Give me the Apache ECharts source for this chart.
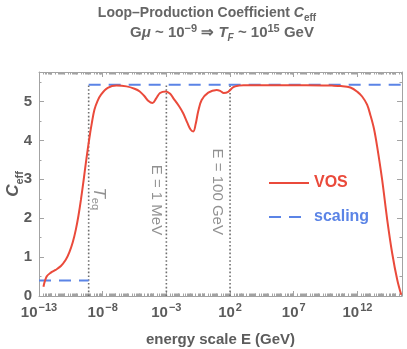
<!DOCTYPE html>
<html><head><meta charset="utf-8">
<script src="https://cdn.jsdelivr.net/npm/echarts@6/dist/echarts.min.js"></script>
<style>html,body{margin:0;padding:0;background:#fff}#c{width:407px;height:349px}</style>
</head><body><div id="c"></div>
<script>
// x values are log10(E / GeV)
const vosLogE = [-12.65,-12.4,-12.07,-11.7,-11.28,-10.9,-10.62,-10.35,-10.1,-9.9,-9.71,-9.5,-9.31,-9.05,-8.85,-8.65,-8.4,-8.13,-7.6,-6.92,-6.13,-5.5,-5.09,-4.7,-4.43,-4.09,-3.8,-3.5,-3.04,-2.7,-2.46,-2.0,-1.68,-1.35,-1.1,-0.89,-0.7,-0.5,-0.23,0.29,0.95,1.25,1.5,1.85,2.26,2.7,3.05,5,8,10,10.7,11.45,12.0,12.37,12.76,13.02,13.3,13.55,13.94,14.34,14.73,15.13,15.44];
const vosC    = [0.24,0.5,0.6,0.67,0.77,0.93,1.12,1.38,1.72,2.07,2.47,2.97,3.45,4.05,4.45,4.79,5.02,5.18,5.35,5.41,5.39,5.33,5.26,5.13,5.02,4.96,5.08,5.22,5.26,5.2,5.09,4.88,4.70,4.45,4.28,4.23,4.42,4.75,5.04,5.23,5.30,5.27,5.22,5.25,5.37,5.41,5.42,5.42,5.42,5.41,5.40,5.36,5.25,5.13,4.92,4.65,4.3,3.84,2.99,1.96,1.10,0.41,0.03];
const scalingLowLogE  = [-13, -9.1];
const scalingLowC     = [0.4, 0.4];
const scalingHighLogE = [-9.1, 15.5];
const scalingHighC    = [5.43, 5.43];
const markerLogE  = [-9.1, -3, 2];      // T_eq, 1 MeV, 100 GeV
const markerTopC  = 5.43;
const markerLabels = ['{t|T}{e|eq}', 'E = 1 MeV', 'E = 100 GeV'];
const markerLabelLogE = [-8.35, -3.8, 1.0];
const markerLabelC    = [2.5, 2.47, 2.68];
const xTickExps = [-13, -8, -3, 2, 7, 12];
const yTicks = [0, 1, 2, 3, 4, 5];
const xMin = -13, xMax = 15.5, yMin = 0, yMax = 5.76;

const RED = '#ea4a3b', BLUE = '#5b84e6', FRAME = '#a3a3a3', TXT = '#5c5c5c';
const FF = "'Liberation Sans', Arial, sans-serif";

const xMinor = [];
for (let n = -13; n <= 15; n++) for (let k = 1; k <= 9; k++) {
  const v = n + Math.log10(k);
  if (v > xMin && v < xMax && !xTickExps.includes(v)) xMinor.push(v);
}
const yMinor = [0.5,1.5,2.5,3.5,4.5,5.5];

function xAx(pos, major, showLabel) {
  return {
    type: 'value', min: xMin, max: xMax, position: pos,
    axisLine: {show: major, onZero: false, lineStyle: {color: FRAME, width: 1}},
    axisTick: {show: true, inside: true, length: major ? 5 : 2.5,
      customValues: major ? xTickExps : xMinor, lineStyle: {color: FRAME}},
    axisLabel: {show: showLabel, customValues: xTickExps, margin: 6,
      formatter: v => '{b|10}{s|' + String(Math.round(v)).replace('-', '\u2212') + '}',
      rich: {b: {fontSize: 15, fontWeight: 'bold', color: TXT, fontFamily: FF, lineHeight: 18, verticalAlign: 'bottom'},
             s: {fontSize: 11, fontWeight: 'bold', color: TXT, fontFamily: FF, lineHeight: 18, verticalAlign: 'top', padding: [0,0,0,1]}}},
    splitLine: {show: false}
  };
}
function yAx(pos, major, showLabel) {
  return {
    type: 'value', min: yMin, max: yMax, position: pos,
    axisLine: {show: major, onZero: false, lineStyle: {color: FRAME, width: 1}},
    axisTick: {show: true, inside: true, length: major ? 5 : 2.5,
      customValues: major ? yTicks : yMinor, lineStyle: {color: FRAME}},
    axisLabel: {show: showLabel, customValues: yTicks, margin: 7,
      fontSize: 15, fontWeight: 'bold', color: TXT, fontFamily: FF},
    splitLine: {show: false}
  };
}

const xAxes = [xAx('bottom', true, true), xAx('bottom', false, false), xAx('top', true, false), xAx('top', false, false)];
xAxes[0].name = 'energy scale E (GeV)';
xAxes[0].nameLocation = 'middle';
xAxes[0].nameGap = 36;
xAxes[0].nameTextStyle = {fontSize: 15, fontWeight: 'bold', color: TXT, fontFamily: FF};
const yAxes = [yAx('left', true, true), yAx('left', false, false), yAx('right', true, false), yAx('right', false, false)];
yAxes[0].name = '{c|C}{e|eff}';
yAxes[0].nameLocation = 'middle';
yAxes[0].nameGap = 14;
yAxes[0].nameMoveOverlap = false;
yAxes[0].nameRotate = 90;
yAxes[0].nameTextStyle = {rich: {
  c: {fontSize: 17, fontWeight: 'bold', fontStyle: 'italic', color: TXT, fontFamily: FF, lineHeight: 20, verticalAlign: 'top'},
  e: {fontSize: 11, fontWeight: 'bold', color: TXT, fontFamily: FF, lineHeight: 14, verticalAlign: 'bottom'}}};

const zip = (a, b) => a.map((v, i) => [v, b[i]]);

const series = [
  {name: 'scaling', type: 'line', data: zip(scalingLowLogE, scalingLowC), symbol: 'none',
   lineStyle: {color: BLUE, width: 2, type: [12, 8]}, itemStyle: {color: BLUE}, z: 3},
  {name: 'scaling', type: 'line', data: zip(scalingHighLogE, scalingHighC), symbol: 'none',
   lineStyle: {color: BLUE, width: 2, type: [12, 8]}, itemStyle: {color: BLUE}, z: 3}
];
markerLogE.forEach((x, i) => series.push({
  name: 'm' + i, type: 'line', data: [[x, 0], [x, markerTopC]], symbol: 'none',
  lineStyle: {color: '#6f6f6f', width: 1.6, type: [1.6, 2.2]}, z: 2
}));
series.push({name: 'VOS', type: 'line', data: zip(vosLogE, vosC), symbol: 'none', smooth: 0.35,
  lineStyle: {color: RED, width: 2}, itemStyle: {color: RED}, z: 4});
series.push({name: 'labels', type: 'scatter', symbolSize: 1, itemStyle: {color: 'rgba(0,0,0,0)'},
  data: markerLabelLogE.map((x, i) => ({value: [x, markerLabelC[i]], label: {formatter: markerLabels[i]}})),
  label: {show: true, position: 'inside', rotate: -90, fontSize: 15, color: '#767676', fontFamily: FF,
    rich: {t: {fontSize: 17, fontStyle: 'italic', color: '#767676', fontFamily: FF, lineHeight: 18, verticalAlign: 'top'},
           e: {fontSize: 11, color: '#767676', fontFamily: FF, lineHeight: 14, verticalAlign: 'bottom'}}},
  z: 5});

const titleRich = {
  a: {fontSize: 14, fontWeight: 'bold', fill: '#666', fontFamily: FF, lineHeight: 20},
  b: {fontSize: 15, fontWeight: 'bold', fill: '#666', fontFamily: FF, lineHeight: 20},
  i: {fontSize: 14, fontWeight: 'bold', fontStyle: 'italic', fill: '#666', fontFamily: FF, lineHeight: 20},
  ib: {fontSize: 15, fontWeight: 'bold', fontStyle: 'italic', fill: '#666', fontFamily: FF, lineHeight: 20},
  s: {fontSize: 10, fontWeight: 'bold', fill: '#666', fontFamily: FF, lineHeight: 14, verticalAlign: 'bottom'},
  si: {fontSize: 10, fontWeight: 'bold', fontStyle: 'italic', fill: '#666', fontFamily: FF, lineHeight: 14, verticalAlign: 'bottom'},
  p: {fontSize: 11, fontWeight: 'bold', fill: '#666', fontFamily: FF, lineHeight: 14, verticalAlign: 'top'}
};

const chart = echarts.init(document.getElementById('c'), null, {renderer: 'canvas'});
chart.setOption({
  animation: false,
  backgroundColor: '#fff',
  grid: {left: 39, right: 5, top: 72, bottom: 53, containLabel: false, outerBoundsMode: 'none'},
  xAxis: xAxes,
  yAxis: yAxes,
  legend: {orient: 'vertical', left: 263, top: 170, itemWidth: 40, itemHeight: 14, itemGap: 18,
    itemStyle: {opacity: 0},
    data: [{name: 'VOS', textStyle: {color: RED}}, {name: 'scaling', textStyle: {color: BLUE}}],
    textStyle: {fontSize: 16, fontWeight: 'bold', fontFamily: FF}},
  graphic: [{
    type: 'text', x: 207, y: 3,
    style: {
      text: '{a|Loop\u2013Production Coefficient }{i|C}{s|eff}',
      align: 'center', verticalAlign: 'top', rich: titleRich
    }
  }, {
    type: 'text', x: 222, y: 23,
    style: {
      text: '{b|G}{ib|\u03bc}{b| ~ 10}{p|\u22129}{b| \u21d2 }{ib|T}{si|F}{b| ~ 10}{p|15}{b| GeV}',
      align: 'center', verticalAlign: 'top', rich: titleRich
    }
  }],
  series: series
});
</script></body></html>
